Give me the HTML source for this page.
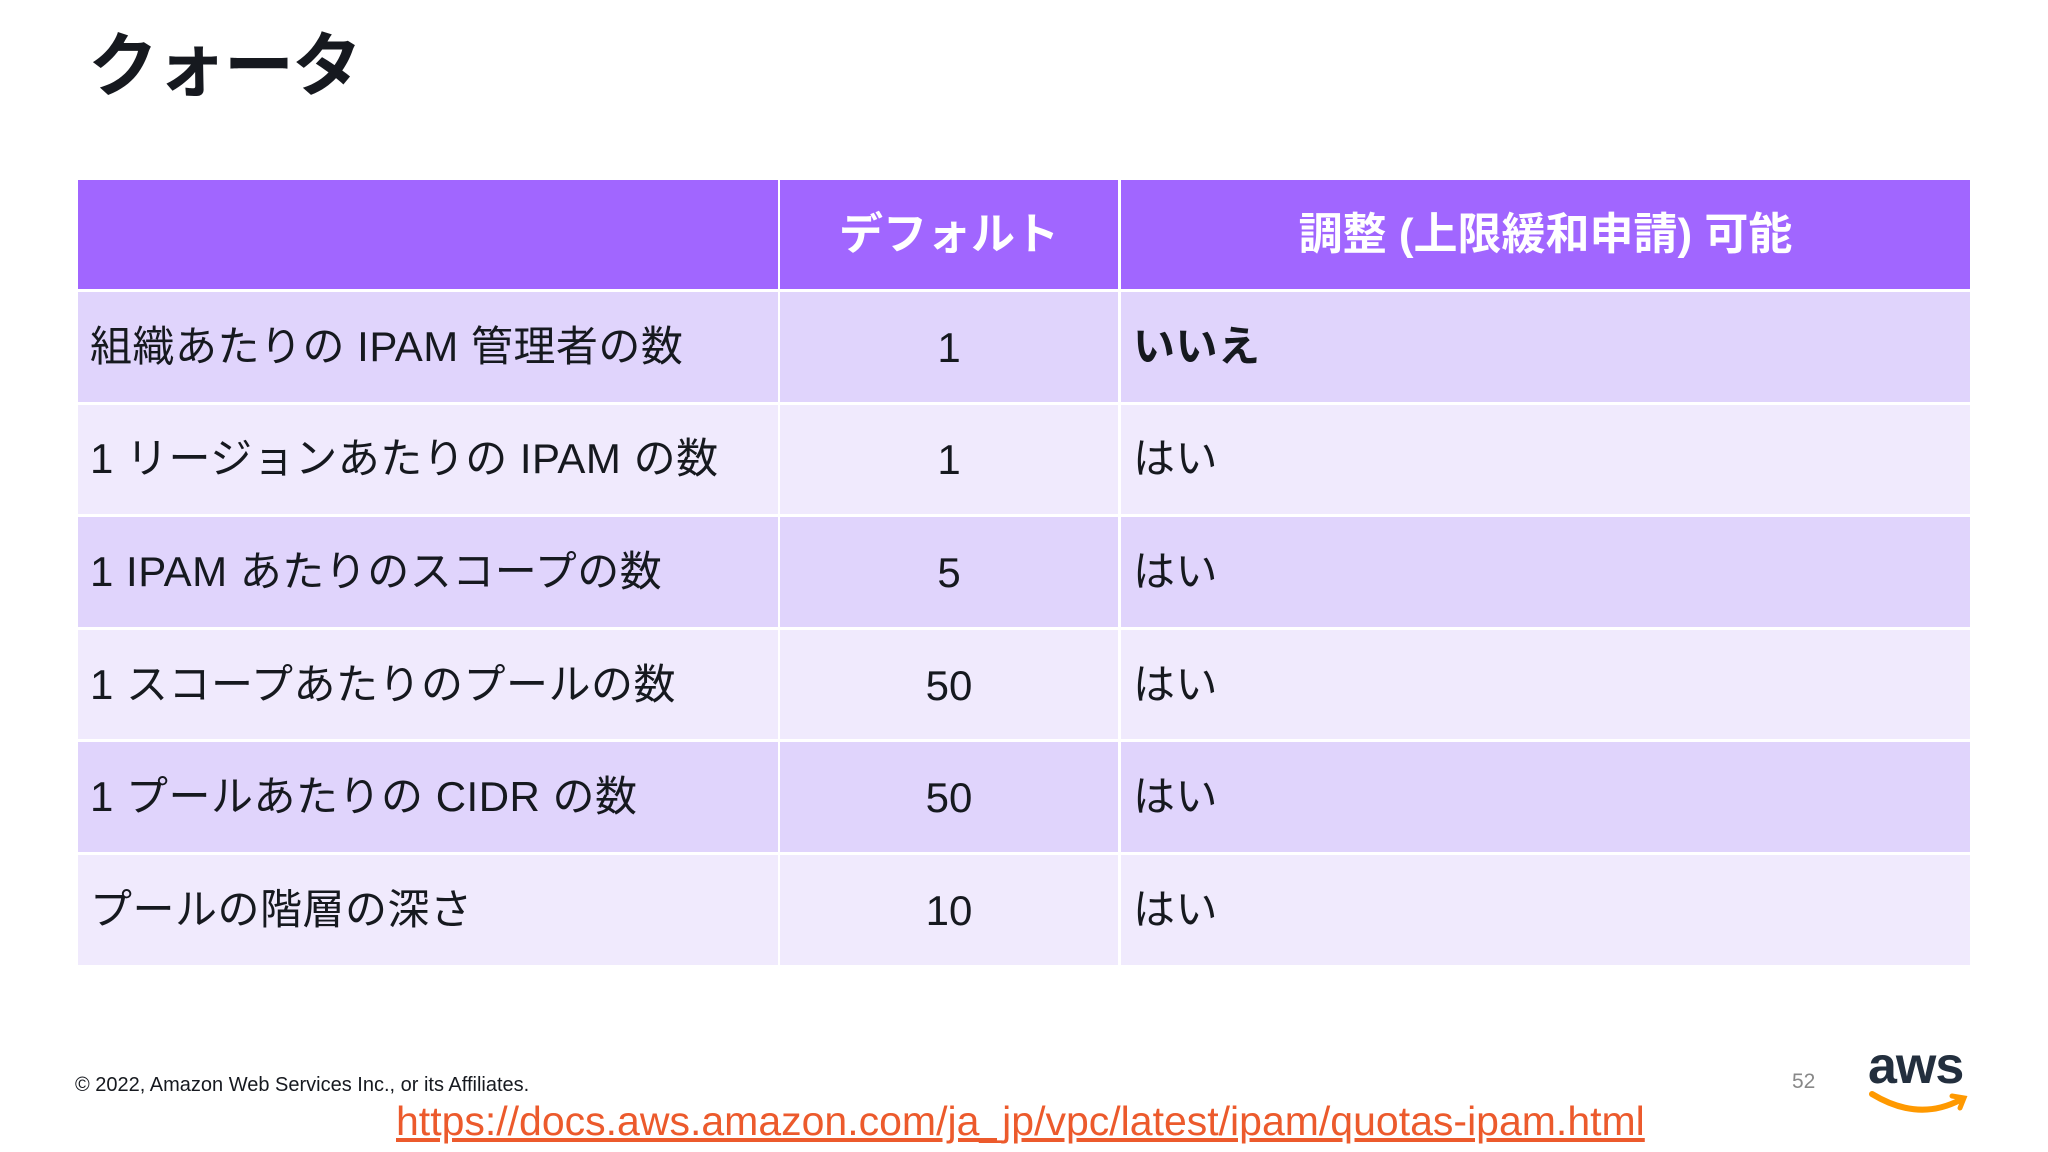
<!DOCTYPE html>
<html><head><meta charset="utf-8"><style>
body{margin:0;width:2048px;height:1152px;background:#fff;position:relative;overflow:hidden;font-family:"Liberation Sans","Noto Sans CJK JP",sans-serif;color:#16191f}
.t{position:absolute;left:88px;top:10px;font-size:70px;font-weight:bold;letter-spacing:-2px}
.c{position:absolute;display:flex;align-items:center;box-sizing:border-box;font-size:42px;line-height:42px}
.h{background:#a166ff;color:#fff;font-weight:bold;justify-content:center;font-size:44px}
.o{background:#e0d4fc}.e{background:#f0eafd}
.l{padding-left:12px;letter-spacing:0.5px}.m{justify-content:center;padding-top:2px}
</style></head><body>
<div class="t">クォータ</div>
<div id="tbl"></div>
<div style="position:absolute;left:75px;top:1074px;font-size:20px">© 2022, Amazon Web Services Inc., or its Affiliates.</div>
<a style="position:absolute;left:396px;top:1098px;font-size:41px;color:#ec5a2c;text-decoration:underline">https://docs.aws.amazon.com/ja_jp/vpc/latest/ipam/quotas-ipam.html</a>
<div style="position:absolute;left:1792px;top:1070px;font-size:21px;color:#888">52</div>
<div style="position:absolute;left:1868px;top:1040px;width:104px;height:76px">
<div style="font-size:52px;font-weight:bold;color:#232f3e;letter-spacing:-1px;line-height:52px">aws</div>
<svg width="104" height="30" style="position:absolute;left:0;top:48px"><path d="M4 6 Q50 34 92 12" stroke="#ff9900" stroke-width="6" fill="none" stroke-linecap="round"/><path d="M84 8 L96 10 L92 20" stroke="#ff9900" stroke-width="5" fill="none" stroke-linecap="round"/></svg></div>
<script>
const labels=["組織あたりの IPAM 管理者の数","1 リージョンあたりの IPAM の数","1 IPAM あたりのスコープの数","1 スコープあたりのプールの数","1 プールあたりの CIDR の数","プールの階層の深さ"];
const defaults=["1","1","5","50","50","10"];
const adjustable=["いいえ","はい","はい","はい","はい","はい"];
const tbl=document.getElementById('tbl');
function cell(x,y,w,h,cls,txt,name){const d=document.createElement('div');d.className='c '+cls;d.style.cssText=`left:${x}px;top:${y}px;width:${w}px;height:${h}px`;d.textContent=txt;


tbl.appendChild(d);return d;}
cell(78,180,700,109,'h','','header-blank');
cell(780,180,338,109,'h','デフォルト','header-default');
cell(1121,180,849,109,'h','調整 (上限緩和申請) 可能','header-adjustable');
labels.forEach((lab,i)=>{const y=292+i*112.6,h=109.5,cl=i%2?'e':'o';
cell(78,y,700,h,cl+' l',lab,'row-label');
cell(780,y,338,h,cl+' m',defaults[i],'row-default');
const a=cell(1121,y,849,h,cl+' l',adjustable[i],'row-adjustable');
if(adjustable[i]==='いいえ')a.style.fontWeight='bold';});
</script>
</body></html>
